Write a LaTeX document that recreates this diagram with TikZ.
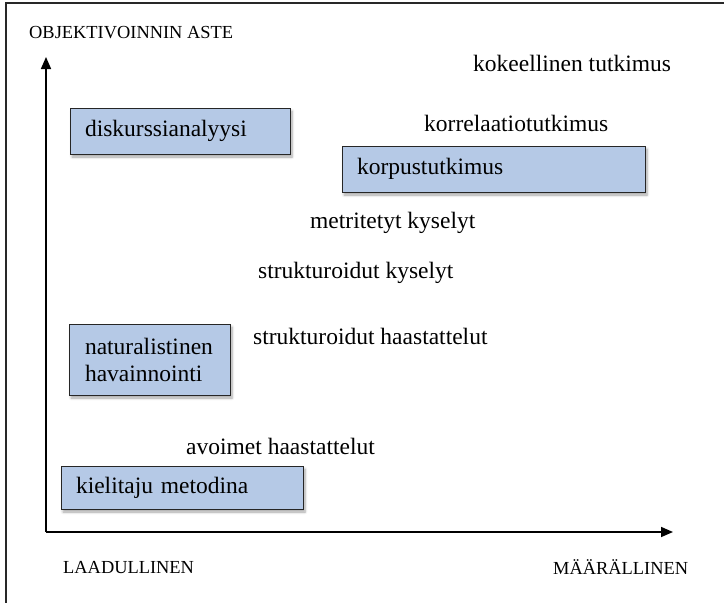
\documentclass[tikz,border=0pt]{standalone}
\usepackage{fontspec}
\setmainfont{Liberation Serif}
\usetikzlibrary{arrows.meta,shadows.blur}
\definecolor{boxblue}{RGB}{181,201,230}
\definecolor{framegray}{RGB}{40,40,40}
\begin{document}
\begin{tikzpicture}[x=1pt,y=-1pt,
  label text/.style={font=\fontsize{23.5}{27}\selectfont, inner sep=0pt, anchor=west},
  axis label/.style={font=\fontsize{18.4}{21}\selectfont, inner sep=0pt, anchor=west},
  method box/.style={draw=black!85, fill=boxblue, line width=0.9pt, align=left,
    font=\fontsize{23.5}{27}\selectfont, inner xsep=15pt, inner ysep=0pt,
    blur shadow={shadow xshift=2pt, shadow yshift=-3pt, shadow blur steps=6,
      shadow blur radius=2.5pt, shadow opacity=35}},
  axis/.style={line width=1.6pt, -{Triangle[length=12pt,width=10pt]}}]
  \useasboundingbox (0,0) rectangle (724,603);
  % outer frame, only its top and left edges fall inside the page
  \draw[framegray, line width=1.3pt] (6,603) -- (6,3) -- (724,3);

  % axes
  \coordinate (origin) at (46,532);
  \coordinate (ytip) at (46,57);
  \coordinate (xtip) at (673,532);
  \draw[axis] (origin) -- (ytip);
  \draw[axis] (origin) -- (xtip);

  % axis labels
  \node[axis label] (yaxis) at (29,33) {OBJEKTIVOINNIN ASTE};
  \node[axis label] (qual) at (63,568) {LAADULLINEN};
  \node[axis label] (quant) at (553,567) {MÄÄRÄLLINEN};

  % highlighted methods
  \node[method box, text width=190pt, minimum height=46pt] (disk) at (180,131) {diskurssianalyysi};
  \node[method box, text width=273pt, minimum height=46pt] (korp) at (493.5,169) {korpustutkimus};
  \node[method box, text width=129pt, minimum height=71pt, inner xsep=16pt] (nat) at (149.5,359.5) {naturalistinen\\havainnointi};
  \node[method box, text width=212pt, minimum height=43pt] (kiel) at (182,487.5) {kielitaju metodina};

  % other methods
  \node[label text] (koke) at (473,63) {kokeellinen tutkimus};
  \node[label text] (korr) at (424,123) {korrelaatiotutkimus};
  \node[label text] (metr) at (310,223) {metritetyt kyselyt};
  \node[label text] (strk) at (258,273) {strukturoidut kyselyt};
  \node[label text] (strh) at (253,336) {strukturoidut haastattelut};
  \node[label text] (avoi) at (186,446) {avoimet haastattelut};
\end{tikzpicture}
\end{document}
